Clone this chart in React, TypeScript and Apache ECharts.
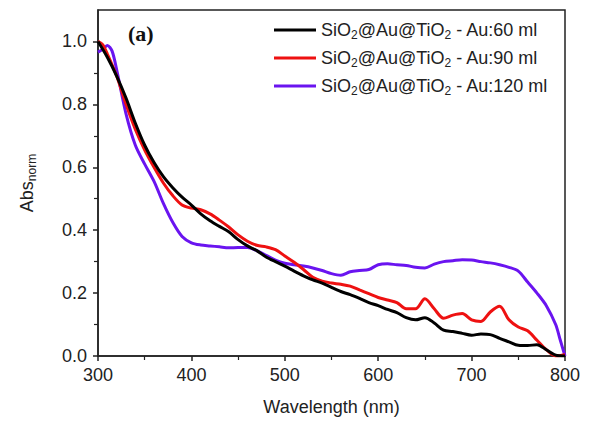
import React, { useEffect, useRef } from "react";
import * as echarts from "echarts";

const wavelengths60 = [300,310,320,330,340,350,360,370,380,390,400,410,420,430,440,450,460,470,480,490,500,510,520,530,540,550,560,570,580,590,600,610,620,630,640,650,660,670,680,690,700,710,720,730,740,750,760,770,780,790,800];
const abs60 = [1.0,0.95,0.89,0.82,0.74,0.67,0.615,0.57,0.535,0.505,0.48,0.452,0.43,0.412,0.395,0.37,0.35,0.335,0.315,0.3,0.286,0.27,0.255,0.242,0.232,0.218,0.205,0.195,0.183,0.17,0.16,0.148,0.138,0.122,0.115,0.122,0.105,0.082,0.078,0.072,0.066,0.07,0.068,0.056,0.045,0.034,0.033,0.036,0.02,0.003,0.0];

const wavelengths90 = [300,305,310,320,330,340,350,360,370,380,390,400,410,420,430,440,450,460,470,480,490,500,510,520,530,540,550,560,570,580,590,600,610,620,630,640,650,660,670,680,690,700,710,720,730,740,750,760,770,780,790,800];
const abs90 = [1.0,0.99,0.96,0.89,0.8,0.72,0.655,0.6,0.55,0.51,0.48,0.47,0.465,0.452,0.432,0.41,0.385,0.365,0.352,0.347,0.338,0.318,0.298,0.275,0.25,0.238,0.232,0.228,0.222,0.21,0.198,0.186,0.178,0.17,0.15,0.15,0.182,0.15,0.12,0.13,0.135,0.115,0.11,0.14,0.158,0.115,0.092,0.08,0.05,0.02,0.0,0.005];

const wavelengths120 = [300,305,310,315,320,330,340,350,360,370,380,390,400,410,420,430,440,450,460,470,480,490,500,510,520,530,540,550,560,570,580,590,600,610,620,630,640,650,660,670,680,690,700,710,720,730,740,750,760,770,780,790,795,800];
const abs120 = [0.966,0.975,0.987,0.97,0.91,0.77,0.67,0.61,0.555,0.485,0.425,0.38,0.36,0.353,0.35,0.347,0.344,0.345,0.345,0.335,0.32,0.305,0.295,0.29,0.286,0.28,0.272,0.262,0.257,0.268,0.272,0.275,0.29,0.293,0.29,0.288,0.282,0.28,0.292,0.3,0.303,0.306,0.305,0.3,0.296,0.29,0.282,0.27,0.235,0.2,0.16,0.1,0.05,0.0];

const seriesNames = [
  "SiO{sub|2}@Au@TiO{sub|2} - Au:60 ml",
  "SiO{sub|2}@Au@TiO{sub|2} - Au:90 ml",
  "SiO{sub|2}@Au@TiO{sub|2} - Au:120 ml",
];
const seriesColors = ["#000000", "#ee1111", "#6a14f0"];

const yMajorTicks = [0, 0.2, 0.4, 0.6, 0.8, 1.0];
const yMinorTicks = [0.1, 0.3, 0.5, 0.7, 0.9];

const FONT = "Liberation Sans, Arial, sans-serif";

export default function App() {
  const ref = useRef<HTMLDivElement>(null);
  useEffect(() => {
    document.body.style.margin = "0";
    const chart = echarts.init(ref.current!, null, { renderer: "svg" });
    const zip = (xs: number[], ys: number[]) => xs.map((x, i) => [x, ys[i]]);
    const datasets = [zip(wavelengths60, abs60), zip(wavelengths90, abs90), zip(wavelengths120, abs120)];
    const axisColor = "#222";
    chart.setOption({
      animation: false,
      backgroundColor: "#fff",
      grid: {
        left: 98,
        right: 25,
        top: 10,
        bottom: 65,
        show: true,
        borderColor: axisColor,
        borderWidth: 1.5,
        backgroundColor: "transparent",
      },
      legend: {
        orient: "vertical",
        left: 269,
        top: 14,
        itemWidth: 42,
        itemHeight: 3,
        itemGap: 6,
        icon: "rect",
        data: seriesNames,
        textStyle: {
          fontFamily: FONT,
          fontSize: 18,
          color: "#222",
          rich: {
            sub: { fontSize: 12, fontFamily: FONT, color: "#222", padding: [10, 0, 0, 0], lineHeight: 12 },
          },
        },
      },
      xAxis: {
        type: "value",
        min: 300,
        max: 800,
        interval: 100,
        name: "Wavelength (nm)",
        nameLocation: "middle",
        nameGap: 42,
        nameTextStyle: { fontFamily: FONT, fontSize: 18, color: "#222" },
        axisLine: { show: true, lineStyle: { color: axisColor, width: 1.5 } },
        axisTick: { show: true, inside: false, length: 5, lineStyle: { color: axisColor, width: 1.5 } },
        minorTick: { show: true, splitNumber: 2, length: 4, lineStyle: { color: axisColor, width: 1.2 } },
        splitLine: { show: false },
        axisLabel: { fontFamily: FONT, fontSize: 18, color: "#222", margin: 10 },
      },
      yAxis: [
        {
          type: "value",
          min: 0,
          max: 1.1,
          interval: 0.2,
          name: "Abs{sub|norm}",
          nameLocation: "middle",
          nameRotate: 90,
          nameGap: 62,
          nameTextStyle: {
            fontFamily: FONT,
            fontSize: 18,
            color: "#222",
            rich: { sub: { fontSize: 12, fontFamily: FONT, color: "#222", padding: [10, 0, 0, 0], lineHeight: 12 } },
          },
          axisLine: { show: true, lineStyle: { color: axisColor, width: 1.5 } },
          axisTick: { show: true, inside: false, length: 5, customValues: yMajorTicks, lineStyle: { color: axisColor, width: 1.5 } },
          splitLine: { show: false },
          axisLabel: {
            fontFamily: FONT,
            fontSize: 18,
            color: "#222",
            margin: 11,
            customValues: yMajorTicks,
            formatter: (v: number) => v.toFixed(1),
          },
        },
        {
          type: "value",
          min: 0,
          max: 1.1,
          position: "left",
          axisLine: { show: false },
          axisTick: { show: true, inside: false, length: 4, customValues: yMinorTicks, lineStyle: { color: axisColor, width: 1.2 } },
          axisLabel: { show: false },
          splitLine: { show: false },
        },
      ],
      graphic: [
        {
          type: "text",
          left: 128,
          top: 22,
          style: { text: "(a)", fontFamily: "Liberation Serif, Times New Roman, serif", fontWeight: "bold", fontSize: 22, fill: "#111" },
        },
      ],
      series: datasets.map((d, i) => ({
        name: seriesNames[i],
        type: "line",
        data: d,
        showSymbol: false,
        symbol: "none",
        smooth: 0.3,
        color: seriesColors[i],
        lineStyle: { width: 3, color: seriesColors[i] },
        z: 3 - i,
      })),
    });
    return () => chart.dispose();
  }, []);
  return <div ref={ref} style={{ width: 590, height: 421 }} />;
}
